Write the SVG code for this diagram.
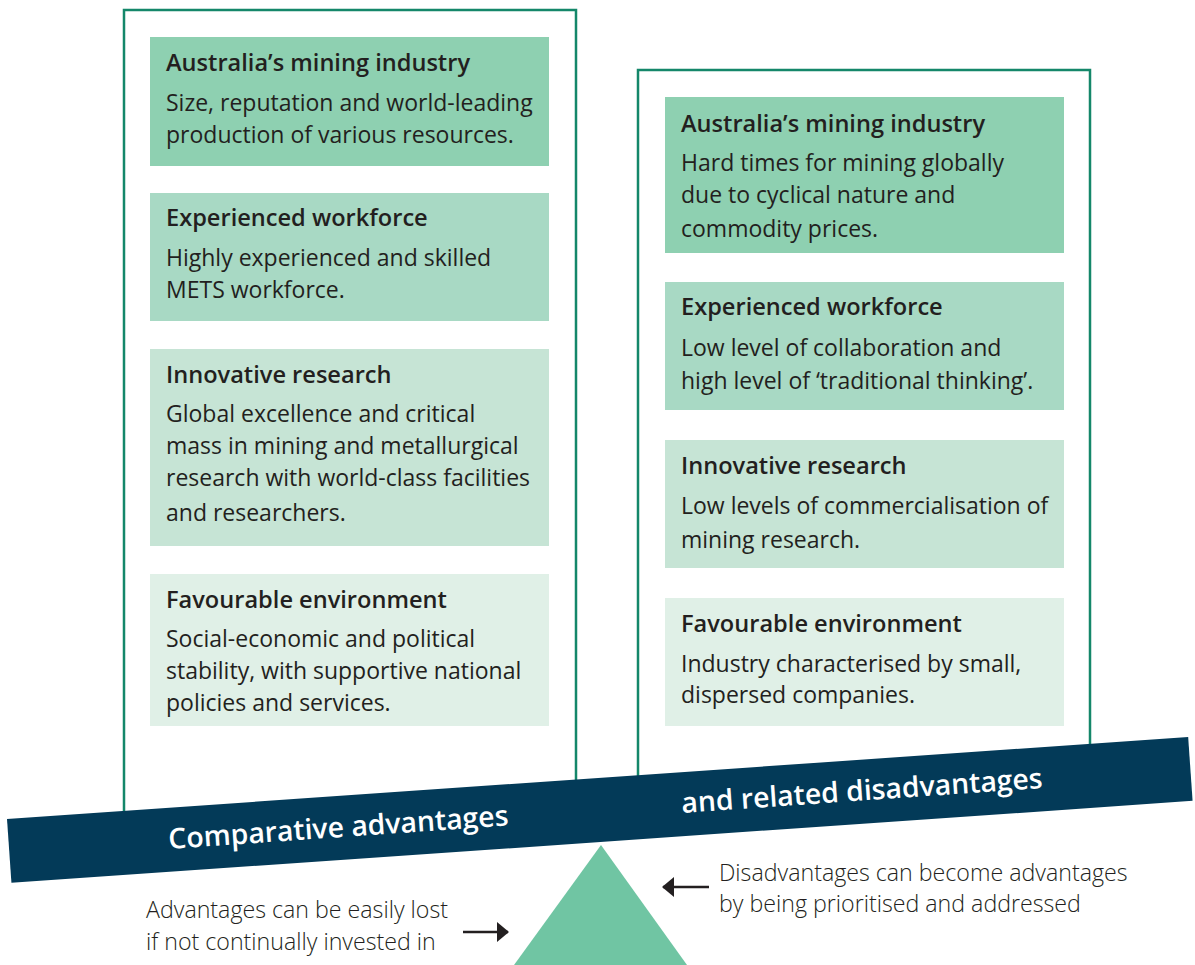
<svg xmlns="http://www.w3.org/2000/svg" width="1195" height="965" viewBox="0 0 1195 965">
<style>
.frame{fill:none;stroke:#14876a;stroke-width:2.5}
.t{font-family:"Open Sans","Noto Sans",sans-serif;font-size:23.6px;font-weight:600;fill:#231f20}
.b{font-family:"Open Sans","Noto Sans",sans-serif;font-size:23px;font-weight:400;fill:#231f20}
.c1{fill:#8ed0b1}.c2{fill:#a8d9c4}.c3{fill:#c6e4d5}.c4{fill:#e0f0e7}
.beamtxt{font-family:"Open Sans","Noto Sans",sans-serif;font-size:28.4px;font-weight:600;fill:#ffffff}
.note{font-family:"Open Sans","Noto Sans",sans-serif;font-size:23.2px;font-weight:300;fill:#231f20}
.arr{stroke:#231f20;stroke-width:2.5;fill:none}
</style>
<defs>
<marker id="ah" viewBox="0 0 12 20" refX="11" refY="10" markerWidth="12" markerHeight="20" markerUnits="userSpaceOnUse" orient="auto">
<path d="M0,0 L12,10 L0,20 Z" fill="#231f20"/>
</marker>
</defs>
<rect width="1195" height="965" fill="#ffffff"/>
<g id="left-frame"><path class="frame" d="M124,815 V10 H576 V783"/></g>
<g id="right-frame"><path class="frame" d="M638,779 V70 H1090 V748"/></g>

<g id="adv-mining">
<rect class="c1" x="150" y="37" width="399" height="129"/>
<text class="t" x="166" y="71">Australia’s mining industry</text>
<text class="b" x="166" y="111">Size, reputation and world-leading</text>
<text class="b" x="166" y="143">production of various resources.</text>
</g>
<g id="adv-workforce">
<rect class="c2" x="150" y="193" width="399" height="128"/>
<text class="t" x="166" y="226">Experienced workforce</text>
<text class="b" x="166" y="266">Highly experienced and skilled</text>
<text class="b" x="166" y="298">METS workforce.</text>
</g>
<g id="adv-research">
<rect class="c3" x="150" y="349" width="399" height="197"/>
<text class="t" x="166" y="383">Innovative research</text>
<text class="b" x="166" y="422">Global excellence and critical</text>
<text class="b" x="166" y="454">mass in mining and metallurgical</text>
<text class="b" x="166" y="486">research with world-class facilities</text>
<text class="b" x="166" y="521">and researchers.</text>
</g>
<g id="adv-environment">
<rect class="c4" x="150" y="574" width="399" height="152"/>
<text class="t" x="166" y="608">Favourable environment</text>
<text class="b" x="166" y="647">Social-economic and political</text>
<text class="b" x="166" y="679">stability, with supportive national</text>
<text class="b" x="166" y="711">policies and services.</text>
</g>

<g id="dis-mining">
<rect class="c1" x="665" y="97" width="399" height="156"/>
<text class="t" x="681" y="132">Australia’s mining industry</text>
<text class="b" x="681" y="171">Hard times for mining globally</text>
<text class="b" x="681" y="203">due to cyclical nature and</text>
<text class="b" x="681" y="237">commodity prices.</text>
</g>
<g id="dis-workforce">
<rect class="c2" x="665" y="282" width="399" height="128"/>
<text class="t" x="681" y="315">Experienced workforce</text>
<text class="b" x="681" y="356">Low level of collaboration and</text>
<text class="b" x="681" y="389">high level of ‘traditional thinking’.</text>
</g>
<g id="dis-research">
<rect class="c3" x="665" y="440" width="399" height="128"/>
<text class="t" x="681" y="474">Innovative research</text>
<text class="b" x="681" y="514">Low levels of commercialisation of</text>
<text class="b" x="681" y="548">mining research.</text>
</g>
<g id="dis-environment">
<rect class="c4" x="665" y="598" width="399" height="128"/>
<text class="t" x="681" y="632">Favourable environment</text>
<text class="b" x="681" y="672">Industry characterised by small,</text>
<text class="b" x="681" y="703">dispersed companies.</text>
</g>

<g id="beam">
<rect x="7" y="819" width="1184" height="64" fill="#033a58" transform="rotate(-3.97 7 819)"/>
<text class="beamtxt" x="169" y="849" transform="rotate(-3.97 169 849)">Comparative advantages</text>
<text class="beamtxt" x="682" y="813" transform="rotate(-3.97 682 813)">and related disadvantages</text>
</g>

<g id="fulcrum"><polygon points="601,845 687,965 514,965" fill="#70c5a3"/></g>

<g id="note-left">
<text class="note" x="146" y="918">Advantages can be easily lost</text>
<text class="note" x="146" y="950">if not continually invested in</text>
</g>
<g id="note-right">
<text class="note" x="719" y="881">Disadvantages can become advantages</text>
<text class="note" x="719" y="912">by being prioritised and addressed</text>
</g>

<g id="connectors">
<line class="arr" x1="463" y1="932" x2="508" y2="932" marker-end="url(#ah)"/>
<line class="arr" x1="709" y1="887" x2="663" y2="887" marker-end="url(#ah)"/>
</g>
</svg>
